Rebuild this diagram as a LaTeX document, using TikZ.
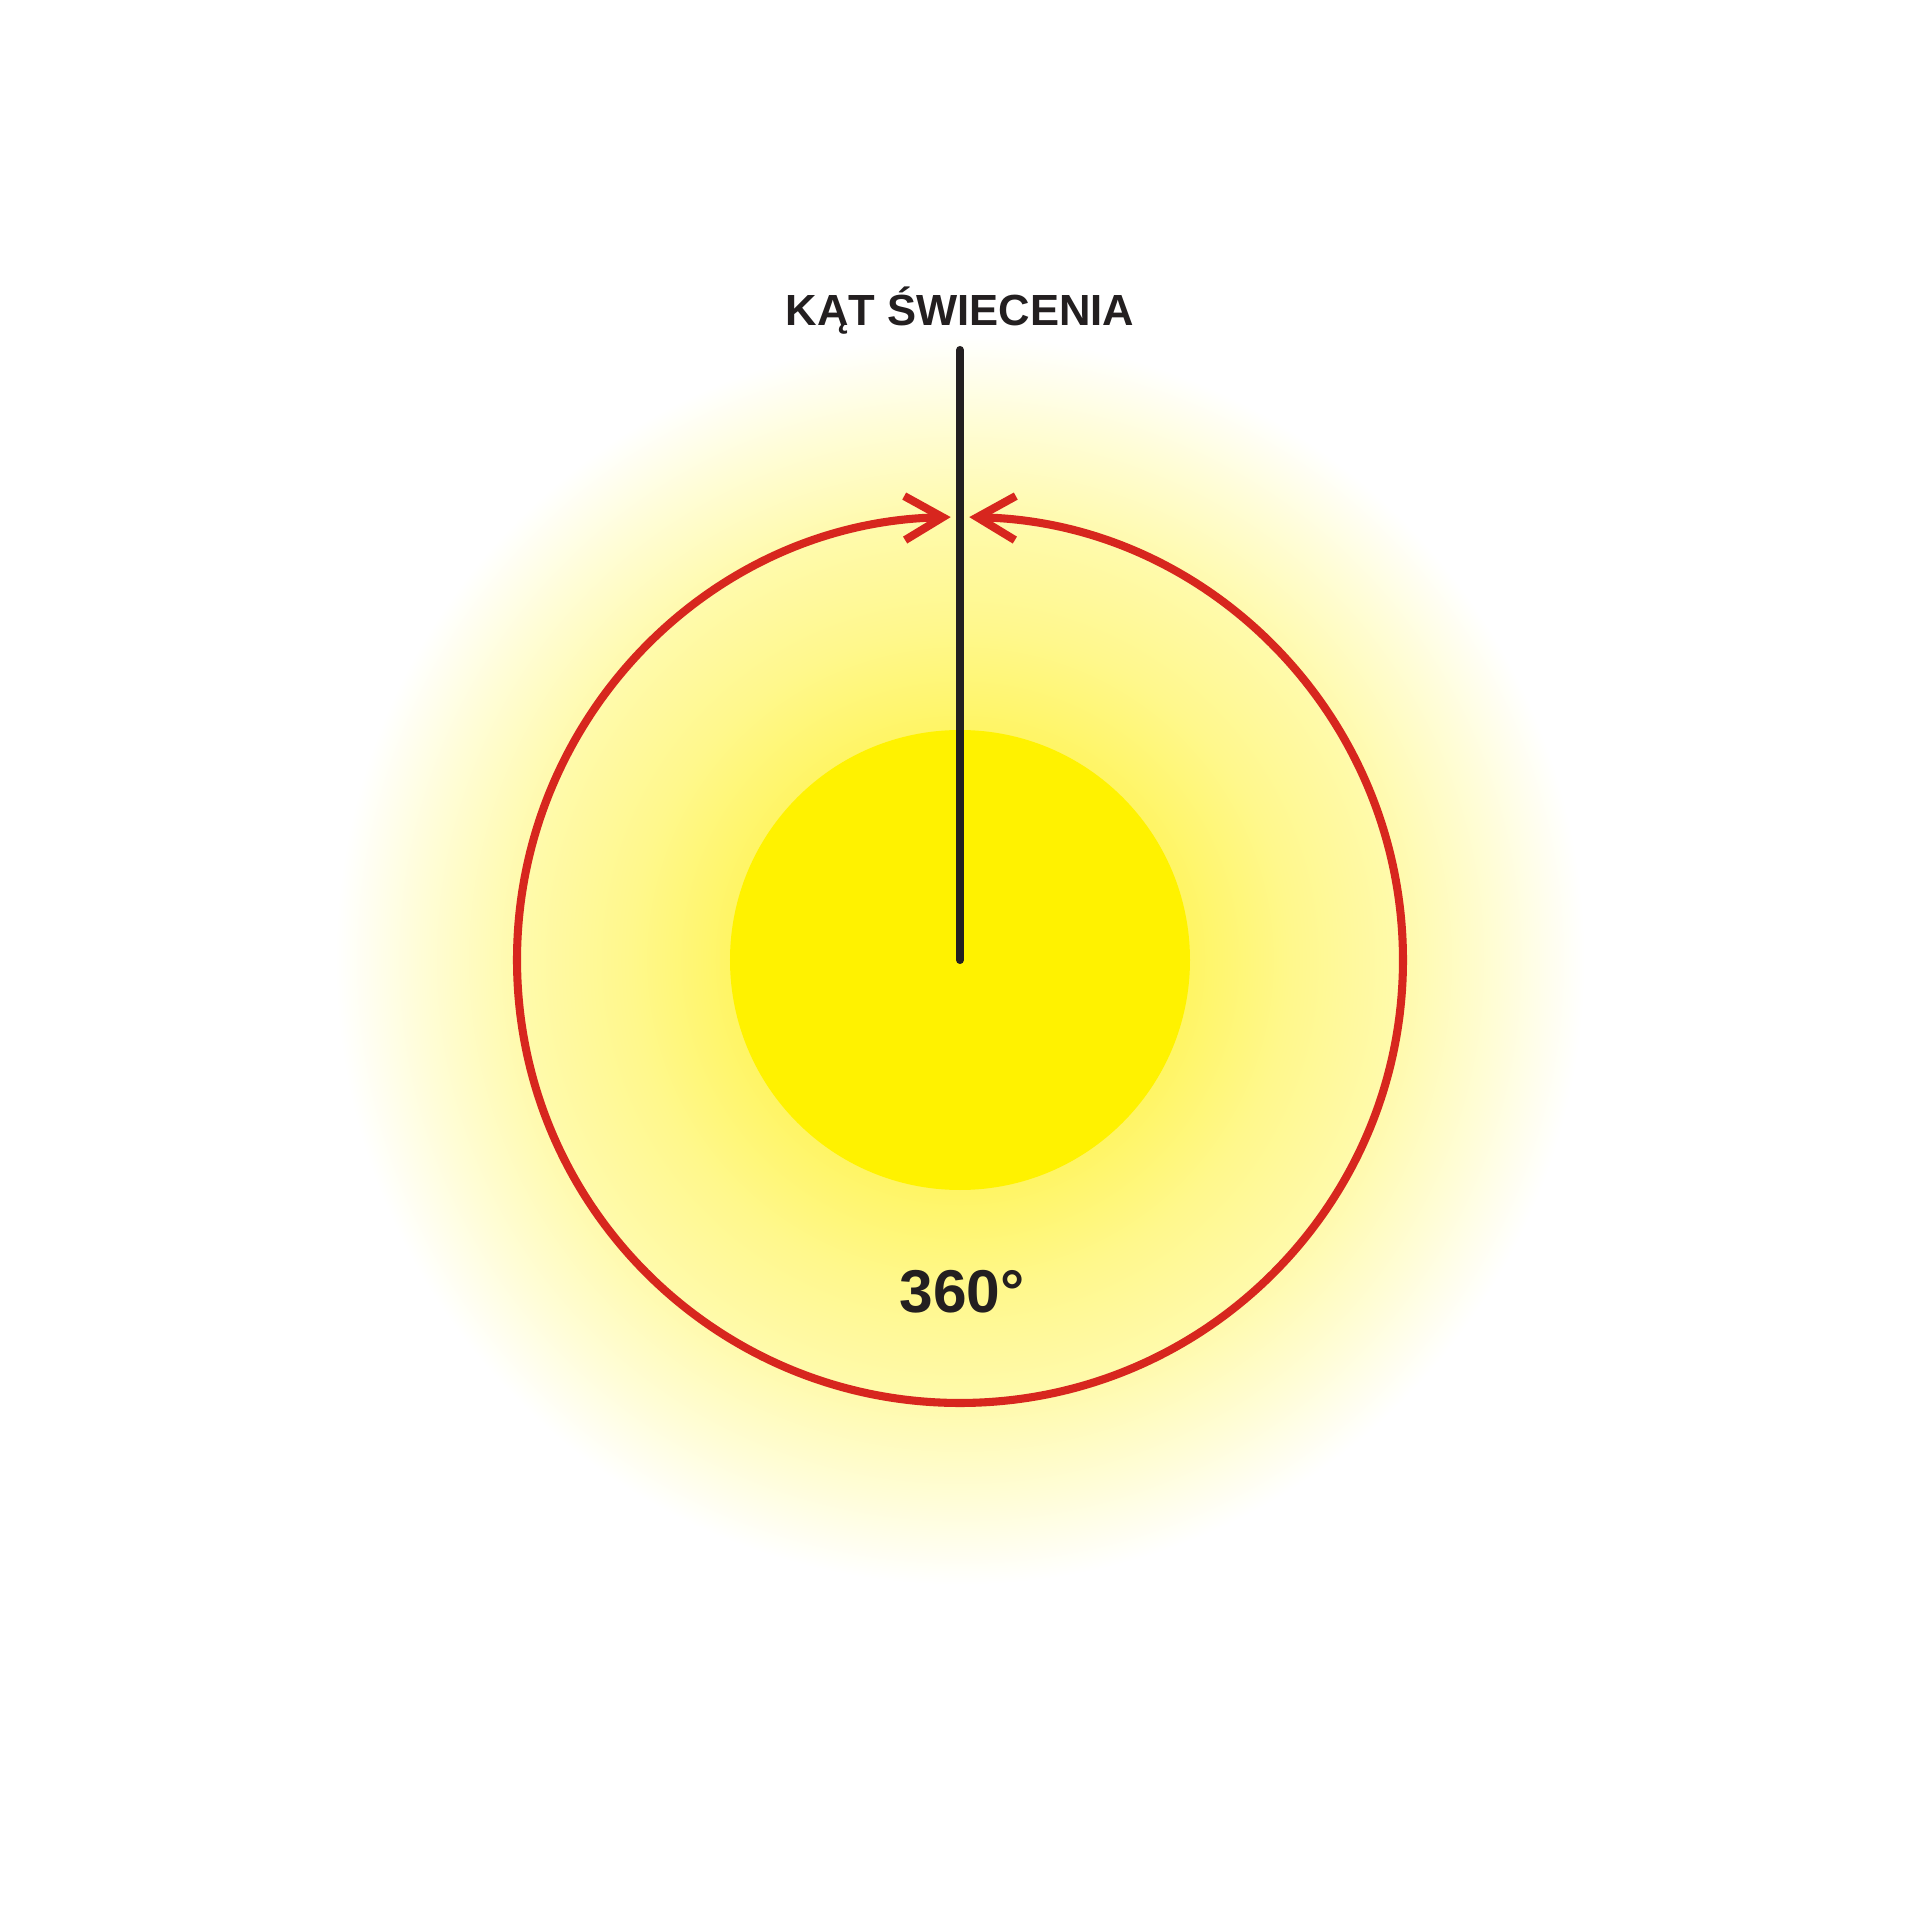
\documentclass[tikz,border=0pt]{standalone}
\usepackage{fontspec}
\setmainfont{Liberation Sans}
\usepackage{xcolor}
\usetikzlibrary{arrows.meta}

\definecolor{sunyellow}{RGB}{255,242,0}
\definecolor{glowa}{RGB}{255,245,100}
\definecolor{glowb}{RGB}{255,248,140}
\definecolor{glowc}{RGB}{255,250,172}
\definecolor{glowd}{RGB}{255,253,215}
\definecolor{anglered}{RGB}{215,38,30}
\definecolor{textblack}{RGB}{35,31,32}

\pgfdeclareradialshading{sunglow}{\pgfpoint{0bp}{0bp}}{%
  color(0bp)=(glowa); color(8.9bp)=(glowa); color(12.9bp)=(glowb);
  color(17.3bp)=(glowc); color(21.1bp)=(glowd); color(24.4bp)=(white);
  color(50bp)=(white)}

\tikzset{
  anglearc/.style={anglered,line width=2.3pt,
    {Straight Barb[length=0.38cm,width=0.44cm]}-{Straight Barb[length=0.38cm,width=0.44cm]}},
  axisline/.style={textblack,line width=2.3pt,line cap=round},
  labeltext/.style={textblack,font=\fontsize{12.4pt}{14pt}\selectfont\bfseries,inner sep=0pt},
  degtext/.style={textblack,font=\fontsize{17.2pt}{19pt}\selectfont\bfseries,inner sep=0pt}
}

\begin{document}
\begin{tikzpicture}
	 \useasboundingbox (-9.6,-9.6) rectangle (9.6,9.6);
	 \fill[white] (-9.6,-9.6) rectangle (9.6,9.6);
	 % glow and lamp
	 \shade[shading=sunglow] (0,0) circle (6.4);
	 \fill[sunyellow] (0,0) circle (2.3);
	 % full angle
	 \draw[anglearc] (91.2:4.43) arc[start angle=91.2, end angle=448.8, radius=4.43];
	 \coordinate (centre) at (0,0);
	 \coordinate (linetop) at (0,6.1);
	 \draw[axisline] (centre) -- (linetop);
	 \node[labeltext,anchor=base] (katlabel) at (0,6.34) {KĄT ŚWIECENIA};
	 \node[degtext,anchor=base] (deglabel) at (0.02,-3.52) {360°};
\end{tikzpicture}
\end{document}
